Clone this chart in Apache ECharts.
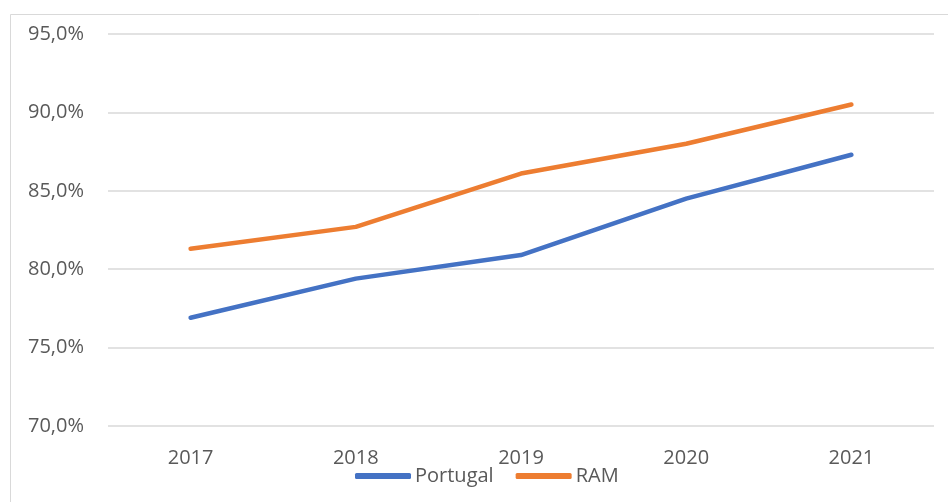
<!DOCTYPE html>
<html>
<head>
<meta charset="utf-8">
<script src="https://cdn.jsdelivr.net/npm/echarts@6/dist/echarts.min.js"></script>
<style>
  html, body { margin: 0; padding: 0; background: #fff; }
  #chart { width: 948px; height: 502px; }
</style>
</head>
<body>
<div id="chart"></div>
<script>
// 数据（从图中读取的估计值，%）
const years    = ['2017', '2018', '2019', '2020', '2021'];
const portugal = [76.9, 79.4, 80.9, 84.5, 87.3];
const ram      = [81.3, 82.7, 86.1, 88.0, 90.5];

const TEXT = '#595959';
const FONT = "'Open Sans', 'Liberation Sans', sans-serif";

const chart = echarts.init(document.getElementById('chart'), null, { renderer: 'canvas' });
chart.setOption({
  backgroundColor: '#fff',
  animation: false,
  textStyle: { fontFamily: FONT, color: TEXT },
  color: ['#4472C4', '#ED7D31'],
  // 外框（Excel 图表区边框）
  graphic: [{
    type: 'rect',
    shape: { x: 10.5, y: 14.5, width: 960, height: 520 },
    style: { fill: 'none', stroke: '#d9d9d9', lineWidth: 1 },
    silent: true,
  }],
  grid: { left: 108, right: 14, top: 34, bottom: 76 },
  legend: {
    data: ['Portugal', 'RAM'],
    top: 461,
    left: 350,
    itemWidth: 56,
    itemHeight: 6,
    itemGap: 22,
    icon: 'roundRect',
    textStyle: { color: TEXT, fontSize: 20, fontFamily: FONT, padding: [0, 0, 0, -1] },
  },
  xAxis: {
    type: 'category',
    data: years,
    boundaryGap: true,
    axisLine: { show: false },
    axisTick: { show: false },
    axisLabel: { color: TEXT, fontSize: 20, margin: 22 },
    splitLine: { show: false },
  },
  yAxis: {
    type: 'value',
    min: 70,
    max: 95,
    interval: 5,
    axisLine: { show: false },
    axisTick: { show: false },
    axisLabel: {
      color: TEXT,
      fontSize: 20,
      margin: 24,
      formatter: (v) => v.toFixed(1).replace('.', ',') + '%',
    },
    splitLine: { lineStyle: { color: '#d9d9d9', width: 1.5 } },
  },
  series: [
    {
      name: 'Portugal',
      type: 'line',
      data: portugal,
      showSymbol: false,
      lineStyle: { width: 4.5, color: '#4472C4', cap: 'round', join: 'round' },
    },
    {
      name: 'RAM',
      type: 'line',
      data: ram,
      showSymbol: false,
      lineStyle: { width: 4.5, color: '#ED7D31', cap: 'round', join: 'round' },
    },
  ],
});
</script>
</body>
</html>
